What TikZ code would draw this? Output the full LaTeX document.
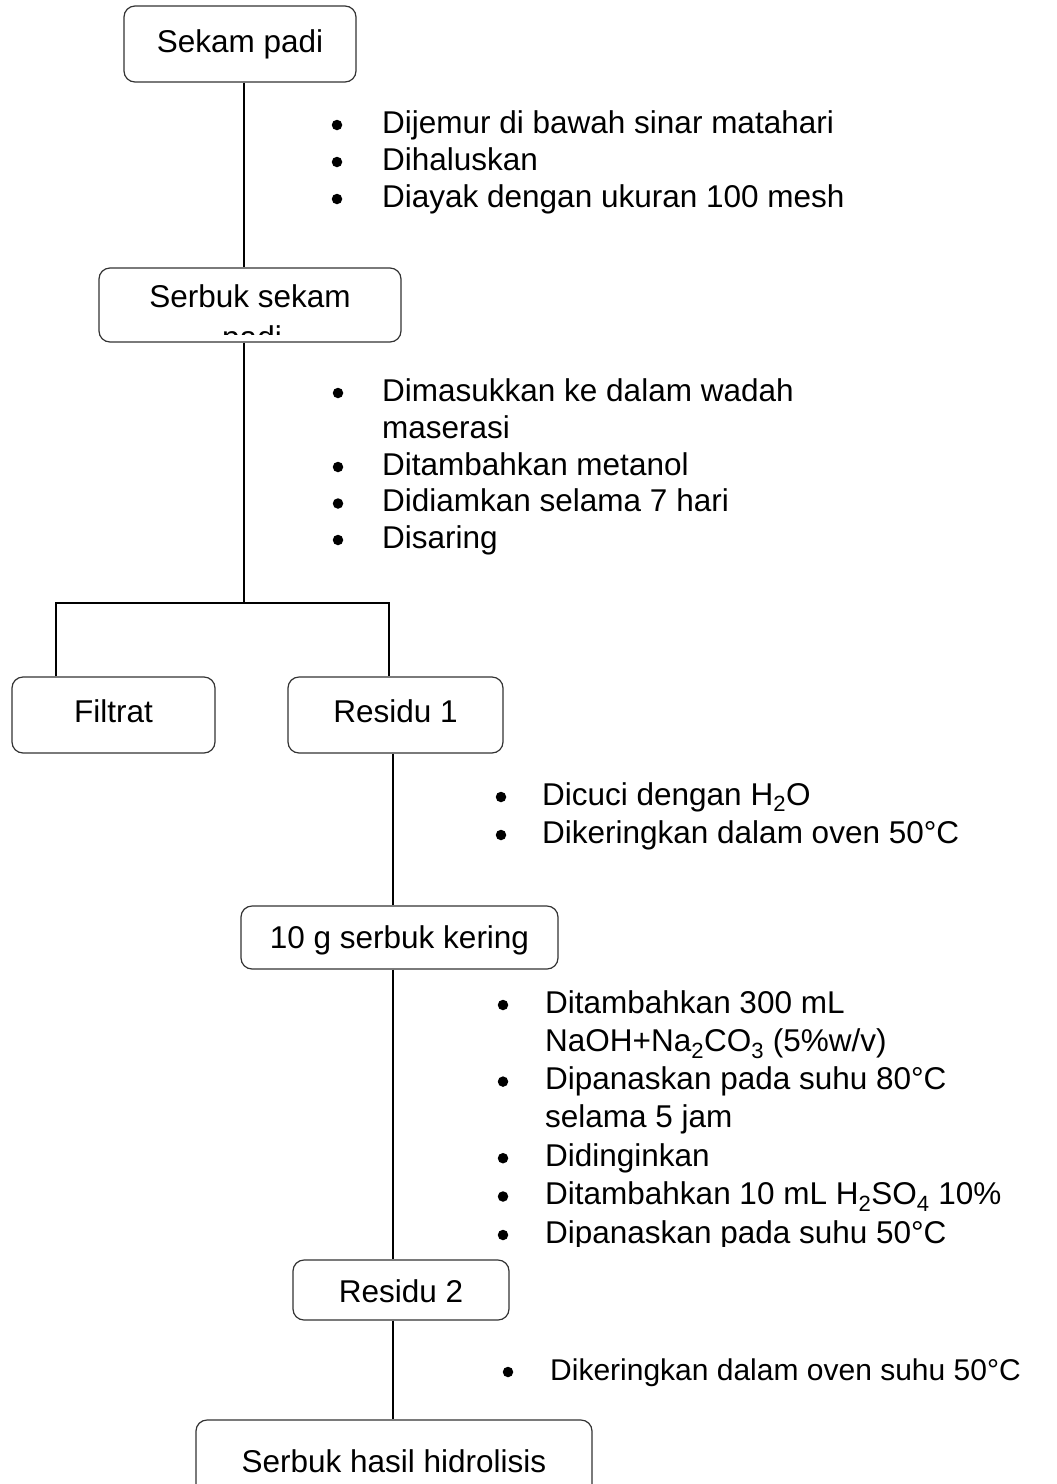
\documentclass[tikz,border=0pt]{standalone}
\usepackage{fontspec}
\setmainfont{Liberation Sans}
\newcommand\flowboxfont{\fontsize{31.5}{38}\selectfont}
\newcommand\flowlistfont{\fontsize{31.5}{38}\selectfont}
\newcommand\flowlastfont{\fontsize{30}{36}\selectfont}
\begin{document}
\begin{tikzpicture}[x=1pt,y=-1pt,
  flowbox/.style={draw=black!80, line width=1.2pt, rounded corners=11pt, inner sep=0pt,
    font=\flowboxfont, text height=22pt, text depth=0pt},
  conn/.style={line width=2pt},
  bulletdot/.style={circle, fill=black, inner sep=0pt, minimum size=10.5pt},
  itemtext/.style={anchor=base west, inner sep=0pt, font=\flowlistfont}]

% page frame
\useasboundingbox (0,0) rectangle (1057,1484);
\fill[white] (0,0) rectangle (1057,1484);
\clip (0,0) rectangle (1057,1484);

% process boxes
\node[flowbox, minimum width=232pt, minimum height=76pt, text height=16pt] (sekam) at (240,44) {Sekam padi};
\node[flowbox, minimum width=302pt, minimum height=74pt] (serbuk) at (250,305) {};
\begin{scope}
  \clip (99,268) rectangle (401,334);
  \node[anchor=base, inner sep=0pt, font=\flowboxfont] (serbukA) at (250,307) {Serbuk sekam};
  \node[anchor=base, inner sep=0pt, font=\flowboxfont] (serbukB) at (252,348) {padi};
\end{scope}
\node[flowbox, minimum width=203pt, minimum height=76pt, text height=14pt] (filtrat) at (113.5,715) {Filtrat};
\node[flowbox, minimum width=215pt, minimum height=76pt, text height=14pt] (residu1) at (395.5,715) {Residu 1};
\node[flowbox, minimum width=317pt, minimum height=63pt] (kering) at (399.5,937.5) {10 g serbuk kering};
\node[flowbox, minimum width=216pt, minimum height=60pt, text height=25pt] (residu2) at (401,1290) {Residu 2};
\node[flowbox, minimum width=396pt, minimum height=76pt, text height=28pt] (hasil) at (394,1458) {Serbuk hasil hidrolisis};

% connector guides
\coordinate (spineA) at (244,603);
\coordinate (legL) at (56,603);
\coordinate (legR) at (389,603);
\coordinate (spineB) at (393,0);

% connectors
\draw[conn] (sekam.south -| spineA) -- (serbuk.north -| spineA);
\draw[conn] (serbuk.south -| spineA) -- (spineA);
\draw[conn] (filtrat.north -| legL) -- (legL) -- (legR) -- (residu1.north -| legR);
\draw[conn] (residu1.south -| spineB) -- (kering.north -| spineB);
\draw[conn] (kering.south -| spineB) -- (residu2.north -| spineB);
\draw[conn] (residu2.south -| spineB) -- (hasil.north -| spineB);

% step list 1
\foreach \i/\yy/\t in {1/133/{Dijemur di bawah sinar matahari}, 2/170/{Dihaluskan}, 3/207/{Diayak dengan ukuran 100 mesh}} {
  \node[bulletdot] (pa\i) at (337,\yy-8) {};
  \node[itemtext] (ta\i) at (382,\yy) {\t};
}

% step list 2
\foreach \i/\yy/\t in {1/401/{Dimasukkan ke dalam wadah}, 3/475/{Ditambahkan metanol}, 4/511.5/{Didiamkan selama 7 hari}, 5/548/{Disaring}} {
  \node[bulletdot] (pb\i) at (338,\yy-8) {};
  \node[itemtext] (tb\i) at (382,\yy) {\t};
}
\node[itemtext] (tb2) at (382,438) {maserasi};

% step list 3
\node[bulletdot] (pc1) at (501,797) {};
\node[itemtext] (tc1) at (542,805) {Dicuci dengan H\textsubscript{2}O};
\node[bulletdot] (pc2) at (501,835) {};
\node[itemtext] (tc2) at (542,843) {Dikeringkan dalam oven 50°C};

% step list 4 (cut off at the bottom)
\begin{scope}
  \clip (480,980) rectangle (1057,1246);
  \foreach \i/\yy/\t in {1/1013/{Ditambahkan 300 mL}, 3/1089.6/{Dipanaskan pada suhu 80°C}, 5/1166.2/{Didinginkan},
      6/1204.5/{Ditambahkan 10 mL H\textsubscript{2}SO\textsubscript{4} 10\%}, 7/1243/{Dipanaskan pada suhu 50°C}} {
    \node[bulletdot] (pd\i) at (503,\yy-8) {};
    \node[itemtext] (td\i) at (545,\yy) {\t};
  }
  \node[itemtext] (td2) at (545,1051.3) {NaOH+Na\textsubscript{2}CO\textsubscript{3} (5\%w/v)};
  \node[itemtext] (td4) at (545,1127.9) {selama 5 jam};
\end{scope}

% step list 5
\node[bulletdot] (pe1) at (508,1372) {};
\node[itemtext, font=\flowlastfont] (te1) at (550,1380) {Dikeringkan dalam oven suhu 50°C};
\end{tikzpicture}
\end{document}
